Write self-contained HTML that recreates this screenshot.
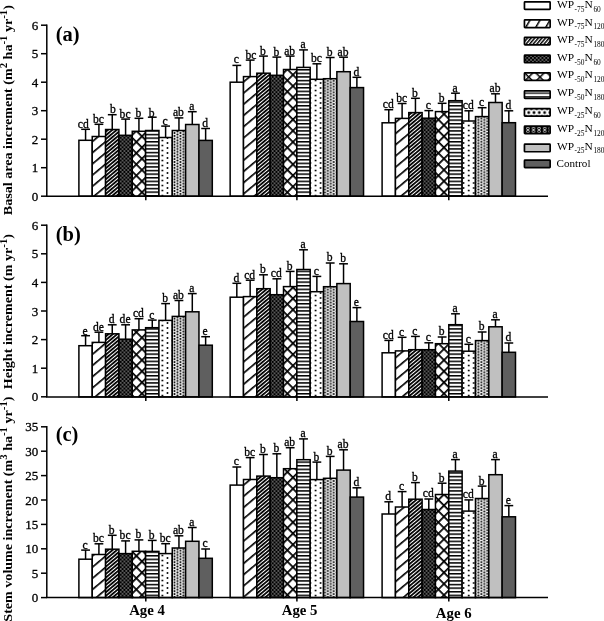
<!DOCTYPE html>
<html><head><meta charset="utf-8"><style>
html,body{margin:0;padding:0;background:#fff;width:604px;height:621px;overflow:hidden;}
svg{display:block;filter:grayscale(1);}
text{fill:#000;} .t{stroke:#000;stroke-width:0.3px;}
</style></head><body>
<svg width="604" height="621" viewBox="0 0 604 621">
<defs>
<pattern id="L2" patternUnits="userSpaceOnUse" x="0.61" width="8.66" height="8.66" patternTransform="rotate(30)">
  <rect width="8.66" height="8.66" fill="#fff"/><rect x="0" width="1.5" height="8.66" fill="#000"/></pattern>
<pattern id="L3" patternUnits="userSpaceOnUse" width="2.76" height="2.76" patternTransform="rotate(40)">
  <rect width="2.76" height="2.76" fill="#fff"/><rect x="0" width="1.5" height="2.76" fill="#000"/></pattern>
<pattern id="L5" patternUnits="userSpaceOnUse" x="-0.75" y="-0.75" width="7.99" height="7.99" patternTransform="translate(528.7 77) rotate(45)">
  <rect width="7.99" height="7.99" fill="#fff"/><rect x="0" width="1.5" height="7.99" fill="#000"/><rect y="0" width="7.99" height="1.5" fill="#000"/></pattern>
<pattern id="L6" patternUnits="userSpaceOnUse" y="92.4" width="10" height="3.6">
  <rect width="10" height="3.6" fill="#fff"/><rect y="0" width="10" height="1.6" fill="#333"/></pattern>
<pattern id="L7" patternUnits="userSpaceOnUse" x="528.7" y="102.6" width="5.3" height="20">
  <rect x="-1" y="-1" width="7" height="22" fill="#fff"/>
  <circle cx="0" cy="10" r="1.45" fill="#000"/><circle cx="5.3" cy="10" r="1.45" fill="#000"/>
  <circle cx="2.65" cy="6.3" r="1.3" fill="#000"/><circle cx="2.65" cy="13.7" r="1.3" fill="#000"/></pattern>
<pattern id="L8" patternUnits="userSpaceOnUse" x="527.9" y="119.9" width="5.6" height="20">
  <rect x="-1" y="-1" width="8" height="22" fill="#000"/>
  <circle cx="0" cy="8.45" r="1.35" fill="none" stroke="#fff" stroke-width="0.75"/>
  <circle cx="0" cy="11.55" r="1.35" fill="none" stroke="#fff" stroke-width="0.75"/>
  <circle cx="5.6" cy="8.45" r="1.35" fill="none" stroke="#fff" stroke-width="0.75"/>
  <circle cx="5.6" cy="11.55" r="1.35" fill="none" stroke="#fff" stroke-width="0.75"/></pattern>
<pattern id="p2" patternUnits="userSpaceOnUse" x="3.94" width="8.58" height="8.58" patternTransform="rotate(50)">
  <rect width="8.58" height="8.58" fill="#fff"/><rect x="0" width="1.65" height="8.58" fill="#000"/></pattern>
<pattern id="p3" patternUnits="userSpaceOnUse" width="2.8" height="2.8" patternTransform="rotate(50)">
  <rect width="2.8" height="2.8" fill="#fff"/><rect x="0" width="1.8" height="2.8" fill="#000"/></pattern>
<pattern id="p4" patternUnits="userSpaceOnUse" width="3.8" height="3.8">
  <rect width="3.8" height="3.8" fill="#000"/>
  <circle cx="0.95" cy="0.95" r="0.62" fill="#fff"/>
  <circle cx="2.85" cy="2.85" r="0.62" fill="#fff"/></pattern>
<pattern id="p5" patternUnits="userSpaceOnUse" x="6.07" y="3.08" width="7.91" height="7.91" patternTransform="rotate(45)">
  <rect width="7.91" height="7.91" fill="#fff"/><rect x="0" width="1.75" height="7.91" fill="#000"/><rect y="0" width="7.91" height="1.75" fill="#000"/></pattern>
<pattern id="p6" patternUnits="userSpaceOnUse" y="0.6" width="10" height="3.6">
  <rect width="10" height="3.6" fill="#fff"/><rect y="0" width="10" height="1.5" fill="#000"/></pattern>
<pattern id="p7" patternUnits="userSpaceOnUse" width="10.21" height="5">
  <rect width="10.21" height="5" fill="#fff"/>
  <circle cx="9.25" cy="0.5" r="0.95" fill="#000"/>
  <circle cx="4.14" cy="3.0" r="0.95" fill="#000"/>
  <circle cx="9.25" cy="5.5" r="0.95" fill="#000"/></pattern>
<pattern id="p8" patternUnits="userSpaceOnUse" x="-1.05" y="2.5" width="5.9" height="2.9">
  <rect width="5.9" height="2.9" fill="#f4f4f4"/>
  <circle cx="1.5" cy="1.45" r="1.05" fill="#000"/>
  <circle cx="4.45" cy="0" r="1.05" fill="#000"/>
  <circle cx="4.45" cy="2.9" r="1.05" fill="#000"/></pattern>
</defs>
<rect width="604" height="621" fill="#fff"/>
<line x1="85.57" y1="129.30" x2="85.57" y2="140.30" stroke="#000" stroke-width="1.5"/>
<line x1="81.17" y1="129.30" x2="89.97" y2="129.30" stroke="#000" stroke-width="1.5"/>
<rect x="78.90" y="140.30" width="13.34" height="55.90" fill="#fff" stroke="#000" stroke-width="1.5"/>
<text x="83.27" y="127.70" font-family='"Liberation Serif", serif' font-size="11.6" text-anchor="middle" class="t">cd</text>
<line x1="98.91" y1="124.30" x2="98.91" y2="136.50" stroke="#000" stroke-width="1.5"/>
<line x1="94.51" y1="124.30" x2="103.31" y2="124.30" stroke="#000" stroke-width="1.5"/>
<rect x="92.24" y="136.50" width="13.34" height="59.70" fill="url(#p2)" stroke="#000" stroke-width="1.5"/>
<text x="98.41" y="122.70" font-family='"Liberation Serif", serif' font-size="11.6" text-anchor="middle" class="t">bc</text>
<line x1="112.25" y1="114.70" x2="112.25" y2="129.50" stroke="#000" stroke-width="1.5"/>
<line x1="107.85" y1="114.70" x2="116.65" y2="114.70" stroke="#000" stroke-width="1.5"/>
<rect x="105.58" y="129.50" width="13.34" height="66.70" fill="url(#p3)" stroke="#000" stroke-width="1.5"/>
<text x="112.95" y="113.10" font-family='"Liberation Serif", serif' font-size="11.6" text-anchor="middle" class="t">b</text>
<line x1="125.59" y1="119.10" x2="125.59" y2="135.30" stroke="#000" stroke-width="1.5"/>
<line x1="121.19" y1="119.10" x2="129.99" y2="119.10" stroke="#000" stroke-width="1.5"/>
<rect x="118.92" y="135.30" width="13.34" height="60.90" fill="url(#p4)" stroke="#000" stroke-width="1.5"/>
<text x="125.09" y="117.50" font-family='"Liberation Serif", serif' font-size="11.6" text-anchor="middle" class="t">bc</text>
<line x1="138.93" y1="118.30" x2="138.93" y2="131.30" stroke="#000" stroke-width="1.5"/>
<line x1="134.53" y1="118.30" x2="143.33" y2="118.30" stroke="#000" stroke-width="1.5"/>
<rect x="132.26" y="131.30" width="13.34" height="64.90" fill="url(#p5)" stroke="#000" stroke-width="1.5"/>
<text x="138.43" y="116.70" font-family='"Liberation Serif", serif' font-size="11.6" text-anchor="middle" class="t">b</text>
<line x1="152.27" y1="117.20" x2="152.27" y2="130.50" stroke="#000" stroke-width="1.5"/>
<line x1="147.87" y1="117.20" x2="156.67" y2="117.20" stroke="#000" stroke-width="1.5"/>
<rect x="145.60" y="130.50" width="13.34" height="65.70" fill="url(#p6)" stroke="#000" stroke-width="1.5"/>
<text x="151.77" y="116.60" font-family='"Liberation Serif", serif' font-size="11.6" text-anchor="middle" class="t">b</text>
<line x1="165.61" y1="126.10" x2="165.61" y2="137.50" stroke="#000" stroke-width="1.5"/>
<line x1="161.21" y1="126.10" x2="170.01" y2="126.10" stroke="#000" stroke-width="1.5"/>
<rect x="158.94" y="137.50" width="13.34" height="58.70" fill="url(#p7)" stroke="#000" stroke-width="1.5"/>
<text x="165.11" y="124.50" font-family='"Liberation Serif", serif' font-size="11.6" text-anchor="middle" class="t">c</text>
<line x1="178.95" y1="117.90" x2="178.95" y2="130.50" stroke="#000" stroke-width="1.5"/>
<line x1="174.55" y1="117.90" x2="183.35" y2="117.90" stroke="#000" stroke-width="1.5"/>
<rect x="172.28" y="130.50" width="13.34" height="65.70" fill="url(#p8)" stroke="#000" stroke-width="1.5"/>
<text x="178.45" y="116.30" font-family='"Liberation Serif", serif' font-size="11.6" text-anchor="middle" class="t">ab</text>
<line x1="192.29" y1="111.70" x2="192.29" y2="124.50" stroke="#000" stroke-width="1.5"/>
<line x1="187.89" y1="111.70" x2="196.69" y2="111.70" stroke="#000" stroke-width="1.5"/>
<rect x="185.62" y="124.50" width="13.34" height="71.70" fill="#c0c0c0" stroke="#000" stroke-width="1.5"/>
<text x="191.79" y="110.10" font-family='"Liberation Serif", serif' font-size="11.6" text-anchor="middle" class="t">a</text>
<line x1="205.63" y1="128.50" x2="205.63" y2="140.40" stroke="#000" stroke-width="1.5"/>
<line x1="201.23" y1="128.50" x2="210.03" y2="128.50" stroke="#000" stroke-width="1.5"/>
<rect x="198.96" y="140.40" width="13.34" height="55.80" fill="#5f5f5f" stroke="#000" stroke-width="1.5"/>
<text x="205.13" y="126.90" font-family='"Liberation Serif", serif' font-size="11.6" text-anchor="middle" class="t">d</text>
<line x1="236.82" y1="65.40" x2="236.82" y2="82.20" stroke="#000" stroke-width="1.5"/>
<line x1="232.42" y1="65.40" x2="241.22" y2="65.40" stroke="#000" stroke-width="1.5"/>
<rect x="230.15" y="82.20" width="13.34" height="114.00" fill="#fff" stroke="#000" stroke-width="1.5"/>
<text x="236.32" y="63.00" font-family='"Liberation Serif", serif' font-size="11.6" text-anchor="middle" class="t">c</text>
<line x1="250.16" y1="60.10" x2="250.16" y2="76.60" stroke="#000" stroke-width="1.5"/>
<line x1="245.76" y1="60.10" x2="254.56" y2="60.10" stroke="#000" stroke-width="1.5"/>
<rect x="243.49" y="76.60" width="13.34" height="119.60" fill="url(#p2)" stroke="#000" stroke-width="1.5"/>
<text x="250.86" y="58.50" font-family='"Liberation Serif", serif' font-size="11.6" text-anchor="middle" class="t">bc</text>
<line x1="263.50" y1="56.10" x2="263.50" y2="73.20" stroke="#000" stroke-width="1.5"/>
<line x1="259.10" y1="56.10" x2="267.90" y2="56.10" stroke="#000" stroke-width="1.5"/>
<rect x="256.83" y="73.20" width="13.34" height="123.00" fill="url(#p3)" stroke="#000" stroke-width="1.5"/>
<text x="263.00" y="54.50" font-family='"Liberation Serif", serif' font-size="11.6" text-anchor="middle" class="t">b</text>
<line x1="276.84" y1="57.10" x2="276.84" y2="75.30" stroke="#000" stroke-width="1.5"/>
<line x1="272.44" y1="57.10" x2="281.24" y2="57.10" stroke="#000" stroke-width="1.5"/>
<rect x="270.17" y="75.30" width="13.34" height="120.90" fill="url(#p4)" stroke="#000" stroke-width="1.5"/>
<text x="276.34" y="55.50" font-family='"Liberation Serif", serif' font-size="11.6" text-anchor="middle" class="t">b</text>
<line x1="290.18" y1="56.10" x2="290.18" y2="69.50" stroke="#000" stroke-width="1.5"/>
<line x1="285.78" y1="56.10" x2="294.58" y2="56.10" stroke="#000" stroke-width="1.5"/>
<rect x="283.51" y="69.50" width="13.34" height="126.70" fill="url(#p5)" stroke="#000" stroke-width="1.5"/>
<text x="289.68" y="54.50" font-family='"Liberation Serif", serif' font-size="11.6" text-anchor="middle" class="t">ab</text>
<line x1="303.52" y1="49.90" x2="303.52" y2="67.40" stroke="#000" stroke-width="1.5"/>
<line x1="299.12" y1="49.90" x2="307.92" y2="49.90" stroke="#000" stroke-width="1.5"/>
<rect x="296.85" y="67.40" width="13.34" height="128.80" fill="url(#p6)" stroke="#000" stroke-width="1.5"/>
<text x="303.02" y="48.30" font-family='"Liberation Serif", serif' font-size="11.6" text-anchor="middle" class="t">a</text>
<line x1="316.86" y1="63.80" x2="316.86" y2="79.30" stroke="#000" stroke-width="1.5"/>
<line x1="312.46" y1="63.80" x2="321.26" y2="63.80" stroke="#000" stroke-width="1.5"/>
<rect x="310.19" y="79.30" width="13.34" height="116.90" fill="url(#p7)" stroke="#000" stroke-width="1.5"/>
<text x="316.36" y="62.20" font-family='"Liberation Serif", serif' font-size="11.6" text-anchor="middle" class="t">bc</text>
<line x1="330.20" y1="57.50" x2="330.20" y2="78.70" stroke="#000" stroke-width="1.5"/>
<line x1="325.80" y1="57.50" x2="334.60" y2="57.50" stroke="#000" stroke-width="1.5"/>
<rect x="323.53" y="78.70" width="13.34" height="117.50" fill="url(#p8)" stroke="#000" stroke-width="1.5"/>
<text x="329.70" y="55.90" font-family='"Liberation Serif", serif' font-size="11.6" text-anchor="middle" class="t">b</text>
<line x1="343.54" y1="57.20" x2="343.54" y2="71.70" stroke="#000" stroke-width="1.5"/>
<line x1="339.14" y1="57.20" x2="347.94" y2="57.20" stroke="#000" stroke-width="1.5"/>
<rect x="336.87" y="71.70" width="13.34" height="124.50" fill="#c0c0c0" stroke="#000" stroke-width="1.5"/>
<text x="343.04" y="55.60" font-family='"Liberation Serif", serif' font-size="11.6" text-anchor="middle" class="t">ab</text>
<line x1="356.88" y1="77.30" x2="356.88" y2="87.60" stroke="#000" stroke-width="1.5"/>
<line x1="352.48" y1="77.30" x2="361.28" y2="77.30" stroke="#000" stroke-width="1.5"/>
<rect x="350.21" y="87.60" width="13.34" height="108.60" fill="#5f5f5f" stroke="#000" stroke-width="1.5"/>
<text x="356.38" y="75.70" font-family='"Liberation Serif", serif' font-size="11.6" text-anchor="middle" class="t">d</text>
<line x1="388.77" y1="109.70" x2="388.77" y2="122.80" stroke="#000" stroke-width="1.5"/>
<line x1="384.37" y1="109.70" x2="393.17" y2="109.70" stroke="#000" stroke-width="1.5"/>
<rect x="382.10" y="122.80" width="13.34" height="73.40" fill="#fff" stroke="#000" stroke-width="1.5"/>
<text x="388.27" y="108.10" font-family='"Liberation Serif", serif' font-size="11.6" text-anchor="middle" class="t">cd</text>
<line x1="402.11" y1="103.50" x2="402.11" y2="118.40" stroke="#000" stroke-width="1.5"/>
<line x1="397.71" y1="103.50" x2="406.51" y2="103.50" stroke="#000" stroke-width="1.5"/>
<rect x="395.44" y="118.40" width="13.34" height="77.80" fill="url(#p2)" stroke="#000" stroke-width="1.5"/>
<text x="401.61" y="101.90" font-family='"Liberation Serif", serif' font-size="11.6" text-anchor="middle" class="t">bc</text>
<line x1="415.45" y1="98.30" x2="415.45" y2="112.60" stroke="#000" stroke-width="1.5"/>
<line x1="411.05" y1="98.30" x2="419.85" y2="98.30" stroke="#000" stroke-width="1.5"/>
<rect x="408.78" y="112.60" width="13.34" height="83.60" fill="url(#p3)" stroke="#000" stroke-width="1.5"/>
<text x="414.95" y="96.70" font-family='"Liberation Serif", serif' font-size="11.6" text-anchor="middle" class="t">b</text>
<line x1="428.79" y1="110.60" x2="428.79" y2="118.20" stroke="#000" stroke-width="1.5"/>
<line x1="424.39" y1="110.60" x2="433.19" y2="110.60" stroke="#000" stroke-width="1.5"/>
<rect x="422.12" y="118.20" width="13.34" height="78.00" fill="url(#p4)" stroke="#000" stroke-width="1.5"/>
<text x="428.29" y="109.00" font-family='"Liberation Serif", serif' font-size="11.6" text-anchor="middle" class="t">c</text>
<line x1="442.13" y1="103.30" x2="442.13" y2="111.60" stroke="#000" stroke-width="1.5"/>
<line x1="437.73" y1="103.30" x2="446.53" y2="103.30" stroke="#000" stroke-width="1.5"/>
<rect x="435.46" y="111.60" width="13.34" height="84.60" fill="url(#p5)" stroke="#000" stroke-width="1.5"/>
<text x="441.63" y="101.70" font-family='"Liberation Serif", serif' font-size="11.6" text-anchor="middle" class="t">b</text>
<line x1="455.47" y1="93.20" x2="455.47" y2="100.70" stroke="#000" stroke-width="1.5"/>
<line x1="451.07" y1="93.20" x2="459.87" y2="93.20" stroke="#000" stroke-width="1.5"/>
<rect x="448.80" y="100.70" width="13.34" height="95.50" fill="url(#p6)" stroke="#000" stroke-width="1.5"/>
<text x="454.97" y="91.60" font-family='"Liberation Serif", serif' font-size="11.6" text-anchor="middle" class="t">a</text>
<line x1="468.81" y1="110.80" x2="468.81" y2="121.00" stroke="#000" stroke-width="1.5"/>
<line x1="464.41" y1="110.80" x2="473.21" y2="110.80" stroke="#000" stroke-width="1.5"/>
<rect x="462.14" y="121.00" width="13.34" height="75.20" fill="url(#p7)" stroke="#000" stroke-width="1.5"/>
<text x="468.31" y="109.20" font-family='"Liberation Serif", serif' font-size="11.6" text-anchor="middle" class="t">cd</text>
<line x1="482.15" y1="107.70" x2="482.15" y2="116.60" stroke="#000" stroke-width="1.5"/>
<line x1="477.75" y1="107.70" x2="486.55" y2="107.70" stroke="#000" stroke-width="1.5"/>
<rect x="475.48" y="116.60" width="13.34" height="79.60" fill="url(#p8)" stroke="#000" stroke-width="1.5"/>
<text x="481.65" y="106.10" font-family='"Liberation Serif", serif' font-size="11.6" text-anchor="middle" class="t">c</text>
<line x1="495.49" y1="93.80" x2="495.49" y2="102.50" stroke="#000" stroke-width="1.5"/>
<line x1="491.09" y1="93.80" x2="499.89" y2="93.80" stroke="#000" stroke-width="1.5"/>
<rect x="488.82" y="102.50" width="13.34" height="93.70" fill="#c0c0c0" stroke="#000" stroke-width="1.5"/>
<text x="494.99" y="92.20" font-family='"Liberation Serif", serif' font-size="11.6" text-anchor="middle" class="t">ab</text>
<line x1="508.83" y1="110.80" x2="508.83" y2="122.70" stroke="#000" stroke-width="1.5"/>
<line x1="504.43" y1="110.80" x2="513.23" y2="110.80" stroke="#000" stroke-width="1.5"/>
<rect x="502.16" y="122.70" width="13.34" height="73.50" fill="#5f5f5f" stroke="#000" stroke-width="1.5"/>
<text x="508.33" y="109.20" font-family='"Liberation Serif", serif' font-size="11.6" text-anchor="middle" class="t">d</text>
<line x1="46.8" y1="24.45" x2="46.8" y2="196.20" stroke="#000" stroke-width="1.5"/>
<line x1="46.05" y1="196.20" x2="548" y2="196.20" stroke="#000" stroke-width="1.5"/>
<line x1="41.00" y1="196.20" x2="46.80" y2="196.20" stroke="#000" stroke-width="1.5"/>
<text x="38.3" y="200.70" font-family='"Liberation Serif", serif' font-size="13" text-anchor="end" class="t">0</text>
<line x1="41.00" y1="167.70" x2="46.80" y2="167.70" stroke="#000" stroke-width="1.5"/>
<text x="38.3" y="172.20" font-family='"Liberation Serif", serif' font-size="13" text-anchor="end" class="t">1</text>
<line x1="41.00" y1="139.20" x2="46.80" y2="139.20" stroke="#000" stroke-width="1.5"/>
<text x="38.3" y="143.70" font-family='"Liberation Serif", serif' font-size="13" text-anchor="end" class="t">2</text>
<line x1="41.00" y1="110.70" x2="46.80" y2="110.70" stroke="#000" stroke-width="1.5"/>
<text x="38.3" y="115.20" font-family='"Liberation Serif", serif' font-size="13" text-anchor="end" class="t">3</text>
<line x1="41.00" y1="82.20" x2="46.80" y2="82.20" stroke="#000" stroke-width="1.5"/>
<text x="38.3" y="86.70" font-family='"Liberation Serif", serif' font-size="13" text-anchor="end" class="t">4</text>
<line x1="41.00" y1="53.70" x2="46.80" y2="53.70" stroke="#000" stroke-width="1.5"/>
<text x="38.3" y="58.20" font-family='"Liberation Serif", serif' font-size="13" text-anchor="end" class="t">5</text>
<line x1="41.00" y1="25.20" x2="46.80" y2="25.20" stroke="#000" stroke-width="1.5"/>
<text x="38.3" y="29.70" font-family='"Liberation Serif", serif' font-size="13" text-anchor="end" class="t">6</text>
<line x1="145.8" y1="196.20" x2="145.8" y2="200.20" stroke="#000" stroke-width="1.5"/>
<line x1="296.9" y1="196.20" x2="296.9" y2="200.20" stroke="#000" stroke-width="1.5"/>
<line x1="448.8" y1="196.20" x2="448.8" y2="200.20" stroke="#000" stroke-width="1.5"/>
<text x="55.7" y="40.699999999999996" font-family='"Liberation Serif", serif' font-size="20.5" font-weight="bold">(a)</text>
<line x1="85.57" y1="335.70" x2="85.57" y2="345.70" stroke="#000" stroke-width="1.5"/>
<line x1="81.17" y1="335.70" x2="89.97" y2="335.70" stroke="#000" stroke-width="1.5"/>
<rect x="78.90" y="345.70" width="13.34" height="51.20" fill="#fff" stroke="#000" stroke-width="1.5"/>
<text x="85.07" y="335.00" font-family='"Liberation Serif", serif' font-size="11.6" text-anchor="middle" class="t">e</text>
<line x1="98.91" y1="332.20" x2="98.91" y2="342.40" stroke="#000" stroke-width="1.5"/>
<line x1="94.51" y1="332.20" x2="103.31" y2="332.20" stroke="#000" stroke-width="1.5"/>
<rect x="92.24" y="342.40" width="13.34" height="54.50" fill="url(#p2)" stroke="#000" stroke-width="1.5"/>
<text x="98.41" y="330.60" font-family='"Liberation Serif", serif' font-size="11.6" text-anchor="middle" class="t">de</text>
<line x1="112.25" y1="324.80" x2="112.25" y2="333.80" stroke="#000" stroke-width="1.5"/>
<line x1="107.85" y1="324.80" x2="116.65" y2="324.80" stroke="#000" stroke-width="1.5"/>
<rect x="105.58" y="333.80" width="13.34" height="63.10" fill="url(#p3)" stroke="#000" stroke-width="1.5"/>
<text x="111.75" y="323.20" font-family='"Liberation Serif", serif' font-size="11.6" text-anchor="middle" class="t">d</text>
<line x1="125.59" y1="324.80" x2="125.59" y2="339.20" stroke="#000" stroke-width="1.5"/>
<line x1="121.19" y1="324.80" x2="129.99" y2="324.80" stroke="#000" stroke-width="1.5"/>
<rect x="118.92" y="339.20" width="13.34" height="57.70" fill="url(#p4)" stroke="#000" stroke-width="1.5"/>
<text x="125.09" y="323.20" font-family='"Liberation Serif", serif' font-size="11.6" text-anchor="middle" class="t">de</text>
<line x1="138.93" y1="318.70" x2="138.93" y2="329.90" stroke="#000" stroke-width="1.5"/>
<line x1="134.53" y1="318.70" x2="143.33" y2="318.70" stroke="#000" stroke-width="1.5"/>
<rect x="132.26" y="329.90" width="13.34" height="67.00" fill="url(#p5)" stroke="#000" stroke-width="1.5"/>
<text x="138.43" y="317.10" font-family='"Liberation Serif", serif' font-size="11.6" text-anchor="middle" class="t">cd</text>
<line x1="152.27" y1="320.10" x2="152.27" y2="327.70" stroke="#000" stroke-width="1.5"/>
<line x1="147.87" y1="320.10" x2="156.67" y2="320.10" stroke="#000" stroke-width="1.5"/>
<rect x="145.60" y="327.70" width="13.34" height="69.20" fill="url(#p6)" stroke="#000" stroke-width="1.5"/>
<text x="151.77" y="318.50" font-family='"Liberation Serif", serif' font-size="11.6" text-anchor="middle" class="t">c</text>
<line x1="165.61" y1="303.60" x2="165.61" y2="320.40" stroke="#000" stroke-width="1.5"/>
<line x1="161.21" y1="303.60" x2="170.01" y2="303.60" stroke="#000" stroke-width="1.5"/>
<rect x="158.94" y="320.40" width="13.34" height="76.50" fill="url(#p7)" stroke="#000" stroke-width="1.5"/>
<text x="165.11" y="302.00" font-family='"Liberation Serif", serif' font-size="11.6" text-anchor="middle" class="t">b</text>
<line x1="178.95" y1="300.50" x2="178.95" y2="316.40" stroke="#000" stroke-width="1.5"/>
<line x1="174.55" y1="300.50" x2="183.35" y2="300.50" stroke="#000" stroke-width="1.5"/>
<rect x="172.28" y="316.40" width="13.34" height="80.50" fill="url(#p8)" stroke="#000" stroke-width="1.5"/>
<text x="178.45" y="298.90" font-family='"Liberation Serif", serif' font-size="11.6" text-anchor="middle" class="t">ab</text>
<line x1="192.29" y1="293.60" x2="192.29" y2="311.80" stroke="#000" stroke-width="1.5"/>
<line x1="187.89" y1="293.60" x2="196.69" y2="293.60" stroke="#000" stroke-width="1.5"/>
<rect x="185.62" y="311.80" width="13.34" height="85.10" fill="#c0c0c0" stroke="#000" stroke-width="1.5"/>
<text x="191.79" y="292.00" font-family='"Liberation Serif", serif' font-size="11.6" text-anchor="middle" class="t">a</text>
<line x1="205.63" y1="336.70" x2="205.63" y2="345.20" stroke="#000" stroke-width="1.5"/>
<line x1="201.23" y1="336.70" x2="210.03" y2="336.70" stroke="#000" stroke-width="1.5"/>
<rect x="198.96" y="345.20" width="13.34" height="51.70" fill="#5f5f5f" stroke="#000" stroke-width="1.5"/>
<text x="205.13" y="335.10" font-family='"Liberation Serif", serif' font-size="11.6" text-anchor="middle" class="t">e</text>
<line x1="236.82" y1="283.30" x2="236.82" y2="297.20" stroke="#000" stroke-width="1.5"/>
<line x1="232.42" y1="283.30" x2="241.22" y2="283.30" stroke="#000" stroke-width="1.5"/>
<rect x="230.15" y="297.20" width="13.34" height="99.70" fill="#fff" stroke="#000" stroke-width="1.5"/>
<text x="236.32" y="281.70" font-family='"Liberation Serif", serif' font-size="11.6" text-anchor="middle" class="t">d</text>
<line x1="250.16" y1="280.20" x2="250.16" y2="296.60" stroke="#000" stroke-width="1.5"/>
<line x1="245.76" y1="280.20" x2="254.56" y2="280.20" stroke="#000" stroke-width="1.5"/>
<rect x="243.49" y="296.60" width="13.34" height="100.30" fill="url(#p2)" stroke="#000" stroke-width="1.5"/>
<text x="249.66" y="278.60" font-family='"Liberation Serif", serif' font-size="11.6" text-anchor="middle" class="t">cd</text>
<line x1="263.50" y1="274.80" x2="263.50" y2="288.70" stroke="#000" stroke-width="1.5"/>
<line x1="259.10" y1="274.80" x2="267.90" y2="274.80" stroke="#000" stroke-width="1.5"/>
<rect x="256.83" y="288.70" width="13.34" height="108.20" fill="url(#p3)" stroke="#000" stroke-width="1.5"/>
<text x="263.00" y="273.20" font-family='"Liberation Serif", serif' font-size="11.6" text-anchor="middle" class="t">b</text>
<line x1="276.84" y1="278.80" x2="276.84" y2="294.70" stroke="#000" stroke-width="1.5"/>
<line x1="272.44" y1="278.80" x2="281.24" y2="278.80" stroke="#000" stroke-width="1.5"/>
<rect x="270.17" y="294.70" width="13.34" height="102.20" fill="url(#p4)" stroke="#000" stroke-width="1.5"/>
<text x="276.34" y="277.20" font-family='"Liberation Serif", serif' font-size="11.6" text-anchor="middle" class="t">cd</text>
<line x1="290.18" y1="271.40" x2="290.18" y2="286.60" stroke="#000" stroke-width="1.5"/>
<line x1="285.78" y1="271.40" x2="294.58" y2="271.40" stroke="#000" stroke-width="1.5"/>
<rect x="283.51" y="286.60" width="13.34" height="110.30" fill="url(#p5)" stroke="#000" stroke-width="1.5"/>
<text x="289.68" y="269.80" font-family='"Liberation Serif", serif' font-size="11.6" text-anchor="middle" class="t">b</text>
<line x1="303.52" y1="249.80" x2="303.52" y2="269.50" stroke="#000" stroke-width="1.5"/>
<line x1="299.12" y1="249.80" x2="307.92" y2="249.80" stroke="#000" stroke-width="1.5"/>
<rect x="296.85" y="269.50" width="13.34" height="127.40" fill="url(#p6)" stroke="#000" stroke-width="1.5"/>
<text x="303.02" y="248.20" font-family='"Liberation Serif", serif' font-size="11.6" text-anchor="middle" class="t">a</text>
<line x1="316.86" y1="276.40" x2="316.86" y2="291.70" stroke="#000" stroke-width="1.5"/>
<line x1="312.46" y1="276.40" x2="321.26" y2="276.40" stroke="#000" stroke-width="1.5"/>
<rect x="310.19" y="291.70" width="13.34" height="105.20" fill="url(#p7)" stroke="#000" stroke-width="1.5"/>
<text x="316.36" y="274.80" font-family='"Liberation Serif", serif' font-size="11.6" text-anchor="middle" class="t">c</text>
<line x1="330.20" y1="263.00" x2="330.20" y2="286.70" stroke="#000" stroke-width="1.5"/>
<line x1="325.80" y1="263.00" x2="334.60" y2="263.00" stroke="#000" stroke-width="1.5"/>
<rect x="323.53" y="286.70" width="13.34" height="110.20" fill="url(#p8)" stroke="#000" stroke-width="1.5"/>
<text x="329.70" y="261.40" font-family='"Liberation Serif", serif' font-size="11.6" text-anchor="middle" class="t">b</text>
<line x1="343.54" y1="263.80" x2="343.54" y2="283.60" stroke="#000" stroke-width="1.5"/>
<line x1="339.14" y1="263.80" x2="347.94" y2="263.80" stroke="#000" stroke-width="1.5"/>
<rect x="336.87" y="283.60" width="13.34" height="113.30" fill="#c0c0c0" stroke="#000" stroke-width="1.5"/>
<text x="343.04" y="262.20" font-family='"Liberation Serif", serif' font-size="11.6" text-anchor="middle" class="t">b</text>
<line x1="356.88" y1="307.60" x2="356.88" y2="321.50" stroke="#000" stroke-width="1.5"/>
<line x1="352.48" y1="307.60" x2="361.28" y2="307.60" stroke="#000" stroke-width="1.5"/>
<rect x="350.21" y="321.50" width="13.34" height="75.40" fill="#5f5f5f" stroke="#000" stroke-width="1.5"/>
<text x="356.38" y="306.00" font-family='"Liberation Serif", serif' font-size="11.6" text-anchor="middle" class="t">e</text>
<line x1="388.77" y1="340.40" x2="388.77" y2="352.80" stroke="#000" stroke-width="1.5"/>
<line x1="384.37" y1="340.40" x2="393.17" y2="340.40" stroke="#000" stroke-width="1.5"/>
<rect x="382.10" y="352.80" width="13.34" height="44.10" fill="#fff" stroke="#000" stroke-width="1.5"/>
<text x="388.27" y="338.80" font-family='"Liberation Serif", serif' font-size="11.6" text-anchor="middle" class="t">cd</text>
<line x1="402.11" y1="337.30" x2="402.11" y2="350.90" stroke="#000" stroke-width="1.5"/>
<line x1="397.71" y1="337.30" x2="406.51" y2="337.30" stroke="#000" stroke-width="1.5"/>
<rect x="395.44" y="350.90" width="13.34" height="46.00" fill="url(#p2)" stroke="#000" stroke-width="1.5"/>
<text x="401.61" y="335.70" font-family='"Liberation Serif", serif' font-size="11.6" text-anchor="middle" class="t">c</text>
<line x1="415.45" y1="336.40" x2="415.45" y2="349.70" stroke="#000" stroke-width="1.5"/>
<line x1="411.05" y1="336.40" x2="419.85" y2="336.40" stroke="#000" stroke-width="1.5"/>
<rect x="408.78" y="349.70" width="13.34" height="47.20" fill="url(#p3)" stroke="#000" stroke-width="1.5"/>
<text x="414.95" y="334.80" font-family='"Liberation Serif", serif' font-size="11.6" text-anchor="middle" class="t">c</text>
<line x1="428.79" y1="342.80" x2="428.79" y2="349.70" stroke="#000" stroke-width="1.5"/>
<line x1="424.39" y1="342.80" x2="433.19" y2="342.80" stroke="#000" stroke-width="1.5"/>
<rect x="422.12" y="349.70" width="13.34" height="47.20" fill="url(#p4)" stroke="#000" stroke-width="1.5"/>
<text x="428.29" y="341.20" font-family='"Liberation Serif", serif' font-size="11.6" text-anchor="middle" class="t">c</text>
<line x1="442.13" y1="337.00" x2="442.13" y2="343.70" stroke="#000" stroke-width="1.5"/>
<line x1="437.73" y1="337.00" x2="446.53" y2="337.00" stroke="#000" stroke-width="1.5"/>
<rect x="435.46" y="343.70" width="13.34" height="53.20" fill="url(#p5)" stroke="#000" stroke-width="1.5"/>
<text x="441.63" y="335.40" font-family='"Liberation Serif", serif' font-size="11.6" text-anchor="middle" class="t">b</text>
<line x1="455.47" y1="313.80" x2="455.47" y2="324.70" stroke="#000" stroke-width="1.5"/>
<line x1="451.07" y1="313.80" x2="459.87" y2="313.80" stroke="#000" stroke-width="1.5"/>
<rect x="448.80" y="324.70" width="13.34" height="72.20" fill="url(#p6)" stroke="#000" stroke-width="1.5"/>
<text x="454.97" y="312.20" font-family='"Liberation Serif", serif' font-size="11.6" text-anchor="middle" class="t">a</text>
<line x1="468.81" y1="344.30" x2="468.81" y2="351.20" stroke="#000" stroke-width="1.5"/>
<line x1="464.41" y1="344.30" x2="473.21" y2="344.30" stroke="#000" stroke-width="1.5"/>
<rect x="462.14" y="351.20" width="13.34" height="45.70" fill="url(#p7)" stroke="#000" stroke-width="1.5"/>
<text x="468.31" y="342.70" font-family='"Liberation Serif", serif' font-size="11.6" text-anchor="middle" class="t">c</text>
<line x1="482.15" y1="332.00" x2="482.15" y2="340.60" stroke="#000" stroke-width="1.5"/>
<line x1="477.75" y1="332.00" x2="486.55" y2="332.00" stroke="#000" stroke-width="1.5"/>
<rect x="475.48" y="340.60" width="13.34" height="56.30" fill="url(#p8)" stroke="#000" stroke-width="1.5"/>
<text x="481.65" y="330.40" font-family='"Liberation Serif", serif' font-size="11.6" text-anchor="middle" class="t">b</text>
<line x1="495.49" y1="319.80" x2="495.49" y2="326.80" stroke="#000" stroke-width="1.5"/>
<line x1="491.09" y1="319.80" x2="499.89" y2="319.80" stroke="#000" stroke-width="1.5"/>
<rect x="488.82" y="326.80" width="13.34" height="70.10" fill="#c0c0c0" stroke="#000" stroke-width="1.5"/>
<text x="494.99" y="318.20" font-family='"Liberation Serif", serif' font-size="11.6" text-anchor="middle" class="t">a</text>
<line x1="508.83" y1="343.00" x2="508.83" y2="352.30" stroke="#000" stroke-width="1.5"/>
<line x1="504.43" y1="343.00" x2="513.23" y2="343.00" stroke="#000" stroke-width="1.5"/>
<rect x="502.16" y="352.30" width="13.34" height="44.60" fill="#5f5f5f" stroke="#000" stroke-width="1.5"/>
<text x="508.33" y="341.40" font-family='"Liberation Serif", serif' font-size="11.6" text-anchor="middle" class="t">d</text>
<line x1="46.8" y1="224.45" x2="46.8" y2="396.90" stroke="#000" stroke-width="1.5"/>
<line x1="46.05" y1="396.90" x2="548" y2="396.90" stroke="#000" stroke-width="1.5"/>
<line x1="41.00" y1="396.80" x2="46.80" y2="396.80" stroke="#000" stroke-width="1.5"/>
<text x="38.3" y="401.30" font-family='"Liberation Serif", serif' font-size="13" text-anchor="end" class="t">0</text>
<line x1="41.00" y1="368.20" x2="46.80" y2="368.20" stroke="#000" stroke-width="1.5"/>
<text x="38.3" y="372.70" font-family='"Liberation Serif", serif' font-size="13" text-anchor="end" class="t">1</text>
<line x1="41.00" y1="339.60" x2="46.80" y2="339.60" stroke="#000" stroke-width="1.5"/>
<text x="38.3" y="344.10" font-family='"Liberation Serif", serif' font-size="13" text-anchor="end" class="t">2</text>
<line x1="41.00" y1="311.00" x2="46.80" y2="311.00" stroke="#000" stroke-width="1.5"/>
<text x="38.3" y="315.50" font-family='"Liberation Serif", serif' font-size="13" text-anchor="end" class="t">3</text>
<line x1="41.00" y1="282.40" x2="46.80" y2="282.40" stroke="#000" stroke-width="1.5"/>
<text x="38.3" y="286.90" font-family='"Liberation Serif", serif' font-size="13" text-anchor="end" class="t">4</text>
<line x1="41.00" y1="253.80" x2="46.80" y2="253.80" stroke="#000" stroke-width="1.5"/>
<text x="38.3" y="258.30" font-family='"Liberation Serif", serif' font-size="13" text-anchor="end" class="t">5</text>
<line x1="41.00" y1="225.20" x2="46.80" y2="225.20" stroke="#000" stroke-width="1.5"/>
<text x="38.3" y="229.70" font-family='"Liberation Serif", serif' font-size="13" text-anchor="end" class="t">6</text>
<line x1="145.8" y1="396.90" x2="145.8" y2="400.90" stroke="#000" stroke-width="1.5"/>
<line x1="296.9" y1="396.90" x2="296.9" y2="400.90" stroke="#000" stroke-width="1.5"/>
<line x1="448.8" y1="396.90" x2="448.8" y2="400.90" stroke="#000" stroke-width="1.5"/>
<text x="55.7" y="240.70000000000002" font-family='"Liberation Serif", serif' font-size="20.5" font-weight="bold">(b)</text>
<line x1="85.57" y1="550.10" x2="85.57" y2="559.20" stroke="#000" stroke-width="1.5"/>
<line x1="81.17" y1="550.10" x2="89.97" y2="550.10" stroke="#000" stroke-width="1.5"/>
<rect x="78.90" y="559.20" width="13.34" height="38.40" fill="#fff" stroke="#000" stroke-width="1.5"/>
<text x="85.07" y="548.50" font-family='"Liberation Serif", serif' font-size="11.6" text-anchor="middle" class="t">c</text>
<line x1="98.91" y1="543.80" x2="98.91" y2="554.50" stroke="#000" stroke-width="1.5"/>
<line x1="94.51" y1="543.80" x2="103.31" y2="543.80" stroke="#000" stroke-width="1.5"/>
<rect x="92.24" y="554.50" width="13.34" height="43.10" fill="url(#p2)" stroke="#000" stroke-width="1.5"/>
<text x="98.41" y="542.20" font-family='"Liberation Serif", serif' font-size="11.6" text-anchor="middle" class="t">bc</text>
<line x1="112.25" y1="535.30" x2="112.25" y2="549.20" stroke="#000" stroke-width="1.5"/>
<line x1="107.85" y1="535.30" x2="116.65" y2="535.30" stroke="#000" stroke-width="1.5"/>
<rect x="105.58" y="549.20" width="13.34" height="48.40" fill="url(#p3)" stroke="#000" stroke-width="1.5"/>
<text x="111.75" y="533.70" font-family='"Liberation Serif", serif' font-size="11.6" text-anchor="middle" class="t">b</text>
<line x1="125.59" y1="540.90" x2="125.59" y2="553.60" stroke="#000" stroke-width="1.5"/>
<line x1="121.19" y1="540.90" x2="129.99" y2="540.90" stroke="#000" stroke-width="1.5"/>
<rect x="118.92" y="553.60" width="13.34" height="44.00" fill="url(#p4)" stroke="#000" stroke-width="1.5"/>
<text x="125.09" y="539.30" font-family='"Liberation Serif", serif' font-size="11.6" text-anchor="middle" class="t">bc</text>
<line x1="138.93" y1="539.90" x2="138.93" y2="551.30" stroke="#000" stroke-width="1.5"/>
<line x1="134.53" y1="539.90" x2="143.33" y2="539.90" stroke="#000" stroke-width="1.5"/>
<rect x="132.26" y="551.30" width="13.34" height="46.30" fill="url(#p5)" stroke="#000" stroke-width="1.5"/>
<text x="138.43" y="538.30" font-family='"Liberation Serif", serif' font-size="11.6" text-anchor="middle" class="t">b</text>
<line x1="152.27" y1="540.40" x2="152.27" y2="551.40" stroke="#000" stroke-width="1.5"/>
<line x1="147.87" y1="540.40" x2="156.67" y2="540.40" stroke="#000" stroke-width="1.5"/>
<rect x="145.60" y="551.40" width="13.34" height="46.20" fill="url(#p6)" stroke="#000" stroke-width="1.5"/>
<text x="151.77" y="538.80" font-family='"Liberation Serif", serif' font-size="11.6" text-anchor="middle" class="t">b</text>
<line x1="165.61" y1="543.70" x2="165.61" y2="553.60" stroke="#000" stroke-width="1.5"/>
<line x1="161.21" y1="543.70" x2="170.01" y2="543.70" stroke="#000" stroke-width="1.5"/>
<rect x="158.94" y="553.60" width="13.34" height="44.00" fill="url(#p7)" stroke="#000" stroke-width="1.5"/>
<text x="165.11" y="542.10" font-family='"Liberation Serif", serif' font-size="11.6" text-anchor="middle" class="t">bc</text>
<line x1="178.95" y1="535.80" x2="178.95" y2="548.00" stroke="#000" stroke-width="1.5"/>
<line x1="174.55" y1="535.80" x2="183.35" y2="535.80" stroke="#000" stroke-width="1.5"/>
<rect x="172.28" y="548.00" width="13.34" height="49.60" fill="url(#p8)" stroke="#000" stroke-width="1.5"/>
<text x="178.45" y="534.20" font-family='"Liberation Serif", serif' font-size="11.6" text-anchor="middle" class="t">ab</text>
<line x1="192.29" y1="527.50" x2="192.29" y2="541.30" stroke="#000" stroke-width="1.5"/>
<line x1="187.89" y1="527.50" x2="196.69" y2="527.50" stroke="#000" stroke-width="1.5"/>
<rect x="185.62" y="541.30" width="13.34" height="56.30" fill="#c0c0c0" stroke="#000" stroke-width="1.5"/>
<text x="191.79" y="525.90" font-family='"Liberation Serif", serif' font-size="11.6" text-anchor="middle" class="t">a</text>
<line x1="205.63" y1="549.00" x2="205.63" y2="558.30" stroke="#000" stroke-width="1.5"/>
<line x1="201.23" y1="549.00" x2="210.03" y2="549.00" stroke="#000" stroke-width="1.5"/>
<rect x="198.96" y="558.30" width="13.34" height="39.30" fill="#5f5f5f" stroke="#000" stroke-width="1.5"/>
<text x="205.13" y="547.40" font-family='"Liberation Serif", serif' font-size="11.6" text-anchor="middle" class="t">c</text>
<line x1="236.82" y1="467.00" x2="236.82" y2="485.10" stroke="#000" stroke-width="1.5"/>
<line x1="232.42" y1="467.00" x2="241.22" y2="467.00" stroke="#000" stroke-width="1.5"/>
<rect x="230.15" y="485.10" width="13.34" height="112.50" fill="#fff" stroke="#000" stroke-width="1.5"/>
<text x="236.32" y="465.40" font-family='"Liberation Serif", serif' font-size="11.6" text-anchor="middle" class="t">c</text>
<line x1="250.16" y1="457.60" x2="250.16" y2="479.50" stroke="#000" stroke-width="1.5"/>
<line x1="245.76" y1="457.60" x2="254.56" y2="457.60" stroke="#000" stroke-width="1.5"/>
<rect x="243.49" y="479.50" width="13.34" height="118.10" fill="url(#p2)" stroke="#000" stroke-width="1.5"/>
<text x="249.66" y="456.00" font-family='"Liberation Serif", serif' font-size="11.6" text-anchor="middle" class="t">bc</text>
<line x1="263.50" y1="454.50" x2="263.50" y2="476.10" stroke="#000" stroke-width="1.5"/>
<line x1="259.10" y1="454.50" x2="267.90" y2="454.50" stroke="#000" stroke-width="1.5"/>
<rect x="256.83" y="476.10" width="13.34" height="121.50" fill="url(#p3)" stroke="#000" stroke-width="1.5"/>
<text x="263.00" y="452.90" font-family='"Liberation Serif", serif' font-size="11.6" text-anchor="middle" class="t">b</text>
<line x1="276.84" y1="453.80" x2="276.84" y2="477.70" stroke="#000" stroke-width="1.5"/>
<line x1="272.44" y1="453.80" x2="281.24" y2="453.80" stroke="#000" stroke-width="1.5"/>
<rect x="270.17" y="477.70" width="13.34" height="119.90" fill="url(#p4)" stroke="#000" stroke-width="1.5"/>
<text x="276.34" y="452.20" font-family='"Liberation Serif", serif' font-size="11.6" text-anchor="middle" class="t">b</text>
<line x1="290.18" y1="447.70" x2="290.18" y2="468.70" stroke="#000" stroke-width="1.5"/>
<line x1="285.78" y1="447.70" x2="294.58" y2="447.70" stroke="#000" stroke-width="1.5"/>
<rect x="283.51" y="468.70" width="13.34" height="128.90" fill="url(#p5)" stroke="#000" stroke-width="1.5"/>
<text x="289.68" y="446.10" font-family='"Liberation Serif", serif' font-size="11.6" text-anchor="middle" class="t">ab</text>
<line x1="303.52" y1="438.90" x2="303.52" y2="459.70" stroke="#000" stroke-width="1.5"/>
<line x1="299.12" y1="438.90" x2="307.92" y2="438.90" stroke="#000" stroke-width="1.5"/>
<rect x="296.85" y="459.70" width="13.34" height="137.90" fill="url(#p6)" stroke="#000" stroke-width="1.5"/>
<text x="303.02" y="437.30" font-family='"Liberation Serif", serif' font-size="11.6" text-anchor="middle" class="t">a</text>
<line x1="316.86" y1="462.10" x2="316.86" y2="479.60" stroke="#000" stroke-width="1.5"/>
<line x1="312.46" y1="462.10" x2="321.26" y2="462.10" stroke="#000" stroke-width="1.5"/>
<rect x="310.19" y="479.60" width="13.34" height="118.00" fill="url(#p7)" stroke="#000" stroke-width="1.5"/>
<text x="316.36" y="460.50" font-family='"Liberation Serif", serif' font-size="11.6" text-anchor="middle" class="t">b</text>
<line x1="330.20" y1="456.40" x2="330.20" y2="478.30" stroke="#000" stroke-width="1.5"/>
<line x1="325.80" y1="456.40" x2="334.60" y2="456.40" stroke="#000" stroke-width="1.5"/>
<rect x="323.53" y="478.30" width="13.34" height="119.30" fill="url(#p8)" stroke="#000" stroke-width="1.5"/>
<text x="329.70" y="454.80" font-family='"Liberation Serif", serif' font-size="11.6" text-anchor="middle" class="t">b</text>
<line x1="343.54" y1="449.80" x2="343.54" y2="470.10" stroke="#000" stroke-width="1.5"/>
<line x1="339.14" y1="449.80" x2="347.94" y2="449.80" stroke="#000" stroke-width="1.5"/>
<rect x="336.87" y="470.10" width="13.34" height="127.50" fill="#c0c0c0" stroke="#000" stroke-width="1.5"/>
<text x="343.04" y="448.20" font-family='"Liberation Serif", serif' font-size="11.6" text-anchor="middle" class="t">ab</text>
<line x1="356.88" y1="487.80" x2="356.88" y2="497.10" stroke="#000" stroke-width="1.5"/>
<line x1="352.48" y1="487.80" x2="361.28" y2="487.80" stroke="#000" stroke-width="1.5"/>
<rect x="350.21" y="497.10" width="13.34" height="100.50" fill="#5f5f5f" stroke="#000" stroke-width="1.5"/>
<text x="356.38" y="486.20" font-family='"Liberation Serif", serif' font-size="11.6" text-anchor="middle" class="t">d</text>
<line x1="388.77" y1="501.80" x2="388.77" y2="514.00" stroke="#000" stroke-width="1.5"/>
<line x1="384.37" y1="501.80" x2="393.17" y2="501.80" stroke="#000" stroke-width="1.5"/>
<rect x="382.10" y="514.00" width="13.34" height="83.60" fill="#fff" stroke="#000" stroke-width="1.5"/>
<text x="388.27" y="500.20" font-family='"Liberation Serif", serif' font-size="11.6" text-anchor="middle" class="t">d</text>
<line x1="402.11" y1="491.60" x2="402.11" y2="507.00" stroke="#000" stroke-width="1.5"/>
<line x1="397.71" y1="491.60" x2="406.51" y2="491.60" stroke="#000" stroke-width="1.5"/>
<rect x="395.44" y="507.00" width="13.34" height="90.60" fill="url(#p2)" stroke="#000" stroke-width="1.5"/>
<text x="401.61" y="490.00" font-family='"Liberation Serif", serif' font-size="11.6" text-anchor="middle" class="t">c</text>
<line x1="415.45" y1="482.60" x2="415.45" y2="499.20" stroke="#000" stroke-width="1.5"/>
<line x1="411.05" y1="482.60" x2="419.85" y2="482.60" stroke="#000" stroke-width="1.5"/>
<rect x="408.78" y="499.20" width="13.34" height="98.40" fill="url(#p3)" stroke="#000" stroke-width="1.5"/>
<text x="414.95" y="481.00" font-family='"Liberation Serif", serif' font-size="11.6" text-anchor="middle" class="t">b</text>
<line x1="428.79" y1="499.00" x2="428.79" y2="509.50" stroke="#000" stroke-width="1.5"/>
<line x1="424.39" y1="499.00" x2="433.19" y2="499.00" stroke="#000" stroke-width="1.5"/>
<rect x="422.12" y="509.50" width="13.34" height="88.10" fill="url(#p4)" stroke="#000" stroke-width="1.5"/>
<text x="428.29" y="497.40" font-family='"Liberation Serif", serif' font-size="11.6" text-anchor="middle" class="t">cd</text>
<line x1="442.13" y1="483.20" x2="442.13" y2="494.50" stroke="#000" stroke-width="1.5"/>
<line x1="437.73" y1="483.20" x2="446.53" y2="483.20" stroke="#000" stroke-width="1.5"/>
<rect x="435.46" y="494.50" width="13.34" height="103.10" fill="url(#p5)" stroke="#000" stroke-width="1.5"/>
<text x="441.63" y="481.60" font-family='"Liberation Serif", serif' font-size="11.6" text-anchor="middle" class="t">b</text>
<line x1="455.47" y1="459.60" x2="455.47" y2="471.10" stroke="#000" stroke-width="1.5"/>
<line x1="451.07" y1="459.60" x2="459.87" y2="459.60" stroke="#000" stroke-width="1.5"/>
<rect x="448.80" y="471.10" width="13.34" height="126.50" fill="url(#p6)" stroke="#000" stroke-width="1.5"/>
<text x="454.97" y="458.00" font-family='"Liberation Serif", serif' font-size="11.6" text-anchor="middle" class="t">a</text>
<line x1="468.81" y1="499.90" x2="468.81" y2="511.10" stroke="#000" stroke-width="1.5"/>
<line x1="464.41" y1="499.90" x2="473.21" y2="499.90" stroke="#000" stroke-width="1.5"/>
<rect x="462.14" y="511.10" width="13.34" height="86.50" fill="url(#p7)" stroke="#000" stroke-width="1.5"/>
<text x="468.31" y="498.30" font-family='"Liberation Serif", serif' font-size="11.6" text-anchor="middle" class="t">cd</text>
<line x1="482.15" y1="486.10" x2="482.15" y2="498.50" stroke="#000" stroke-width="1.5"/>
<line x1="477.75" y1="486.10" x2="486.55" y2="486.10" stroke="#000" stroke-width="1.5"/>
<rect x="475.48" y="498.50" width="13.34" height="99.10" fill="url(#p8)" stroke="#000" stroke-width="1.5"/>
<text x="481.65" y="484.50" font-family='"Liberation Serif", serif' font-size="11.6" text-anchor="middle" class="t">b</text>
<line x1="495.49" y1="459.60" x2="495.49" y2="474.70" stroke="#000" stroke-width="1.5"/>
<line x1="491.09" y1="459.60" x2="499.89" y2="459.60" stroke="#000" stroke-width="1.5"/>
<rect x="488.82" y="474.70" width="13.34" height="122.90" fill="#c0c0c0" stroke="#000" stroke-width="1.5"/>
<text x="494.99" y="458.00" font-family='"Liberation Serif", serif' font-size="11.6" text-anchor="middle" class="t">a</text>
<line x1="508.83" y1="505.60" x2="508.83" y2="516.80" stroke="#000" stroke-width="1.5"/>
<line x1="504.43" y1="505.60" x2="513.23" y2="505.60" stroke="#000" stroke-width="1.5"/>
<rect x="502.16" y="516.80" width="13.34" height="80.80" fill="#5f5f5f" stroke="#000" stroke-width="1.5"/>
<text x="508.33" y="504.00" font-family='"Liberation Serif", serif' font-size="11.6" text-anchor="middle" class="t">e</text>
<line x1="46.8" y1="426.05" x2="46.8" y2="597.60" stroke="#000" stroke-width="1.5"/>
<line x1="46.05" y1="597.60" x2="548" y2="597.60" stroke="#000" stroke-width="1.5"/>
<line x1="41.00" y1="597.60" x2="46.80" y2="597.60" stroke="#000" stroke-width="1.5"/>
<text x="38.3" y="602.10" font-family='"Liberation Serif", serif' font-size="13" text-anchor="end" class="t">0</text>
<line x1="41.00" y1="573.20" x2="46.80" y2="573.20" stroke="#000" stroke-width="1.5"/>
<text x="38.3" y="577.70" font-family='"Liberation Serif", serif' font-size="13" text-anchor="end" class="t">5</text>
<line x1="41.00" y1="548.80" x2="46.80" y2="548.80" stroke="#000" stroke-width="1.5"/>
<text x="38.3" y="553.30" font-family='"Liberation Serif", serif' font-size="13" text-anchor="end" class="t">10</text>
<line x1="41.00" y1="524.40" x2="46.80" y2="524.40" stroke="#000" stroke-width="1.5"/>
<text x="38.3" y="528.90" font-family='"Liberation Serif", serif' font-size="13" text-anchor="end" class="t">15</text>
<line x1="41.00" y1="500.00" x2="46.80" y2="500.00" stroke="#000" stroke-width="1.5"/>
<text x="38.3" y="504.50" font-family='"Liberation Serif", serif' font-size="13" text-anchor="end" class="t">20</text>
<line x1="41.00" y1="475.60" x2="46.80" y2="475.60" stroke="#000" stroke-width="1.5"/>
<text x="38.3" y="480.10" font-family='"Liberation Serif", serif' font-size="13" text-anchor="end" class="t">25</text>
<line x1="41.00" y1="451.20" x2="46.80" y2="451.20" stroke="#000" stroke-width="1.5"/>
<text x="38.3" y="455.70" font-family='"Liberation Serif", serif' font-size="13" text-anchor="end" class="t">30</text>
<line x1="41.00" y1="426.80" x2="46.80" y2="426.80" stroke="#000" stroke-width="1.5"/>
<text x="38.3" y="431.30" font-family='"Liberation Serif", serif' font-size="13" text-anchor="end" class="t">35</text>
<line x1="145.8" y1="597.60" x2="145.8" y2="601.60" stroke="#000" stroke-width="1.5"/>
<line x1="296.9" y1="597.60" x2="296.9" y2="601.60" stroke="#000" stroke-width="1.5"/>
<line x1="448.8" y1="597.60" x2="448.8" y2="601.60" stroke="#000" stroke-width="1.5"/>
<text x="55.7" y="440.7" font-family='"Liberation Serif", serif' font-size="20.5" font-weight="bold">(c)</text>
<text x="147.0" y="614.9" font-family='"Liberation Serif", serif' font-size="14.8" font-weight="bold" text-anchor="middle">Age 4</text>
<text x="299.6" y="615.4" font-family='"Liberation Serif", serif' font-size="14.8" font-weight="bold" text-anchor="middle">Age 5</text>
<text x="453.7" y="617.9" font-family='"Liberation Serif", serif' font-size="14.8" font-weight="bold" text-anchor="middle">Age 6</text>
<text transform="translate(12.0 215.2) rotate(-90) scale(1.075 1)" font-family='"Liberation Serif", serif' font-size="13.1" font-weight="bold">Basal area increment (m<tspan dy="-5" font-size="10">2</tspan><tspan dy="5"> ha</tspan><tspan dy="-5" font-size="10">-1</tspan><tspan dy="5"> yr</tspan><tspan dy="-5" font-size="10">-1</tspan><tspan dy="5">)</tspan></text>
<text transform="translate(12.0 389.3) rotate(-90) scale(1.075 1)" font-family='"Liberation Serif", serif' font-size="13.1" font-weight="bold">Height increment (m yr<tspan dy="-5" font-size="10">-1</tspan><tspan dy="5">)</tspan></text>
<text transform="translate(12.0 621.7) rotate(-90) scale(1.075 1)" font-family='"Liberation Serif", serif' font-size="13.1" font-weight="bold">Stem volume increment (m<tspan dy="-5" font-size="10">3</tspan><tspan dy="5"> ha</tspan><tspan dy="-5" font-size="10">-1</tspan><tspan dy="5"> yr</tspan><tspan dy="-5" font-size="10">-1</tspan><tspan dy="5">)</tspan></text>
<rect x="524.45" y="1.85" width="25.7" height="7.6" rx="0.6" fill="#fff" stroke="#000" stroke-width="1.7"/>
<text x="557.1" y="7.90" font-family='"Liberation Serif", serif' font-size="11.4">WP</text>
<text x="584.4" y="7.90" font-family='"Liberation Serif", serif' font-size="11.4">N</text>
<text transform="translate(574.6 11.60) scale(1 1)" font-family='"Liberation Serif", serif' font-size="7.4">-75</text>
<text transform="translate(593.4 11.60) scale(1 1)" font-family='"Liberation Serif", serif' font-size="7.4">60</text>
<rect x="524.45" y="19.95" width="25.7" height="7.6" rx="0.6" fill="url(#L2)" stroke="#000" stroke-width="1.7"/>
<text x="557.1" y="25.60" font-family='"Liberation Serif", serif' font-size="11.4">WP</text>
<text x="584.4" y="25.60" font-family='"Liberation Serif", serif' font-size="11.4">N</text>
<text transform="translate(574.6 29.30) scale(1 1)" font-family='"Liberation Serif", serif' font-size="7.4">-75</text>
<text transform="translate(593.4 29.30) scale(1 1)" font-family='"Liberation Serif", serif' font-size="7.4">120</text>
<rect x="524.45" y="37.35" width="25.7" height="7.6" rx="0.6" fill="url(#L3)" stroke="#000" stroke-width="1.7"/>
<text x="557.1" y="42.90" font-family='"Liberation Serif", serif' font-size="11.4">WP</text>
<text x="584.4" y="42.90" font-family='"Liberation Serif", serif' font-size="11.4">N</text>
<text transform="translate(574.6 46.60) scale(1 1)" font-family='"Liberation Serif", serif' font-size="7.4">-75</text>
<text transform="translate(593.4 46.60) scale(1 1)" font-family='"Liberation Serif", serif' font-size="7.4">180</text>
<rect x="524.45" y="55.15" width="25.7" height="7.6" rx="0.6" fill="url(#p4)" stroke="#000" stroke-width="1.7"/>
<text x="557.1" y="60.90" font-family='"Liberation Serif", serif' font-size="11.4">WP</text>
<text x="584.4" y="60.90" font-family='"Liberation Serif", serif' font-size="11.4">N</text>
<text transform="translate(574.6 64.60) scale(1 1)" font-family='"Liberation Serif", serif' font-size="7.4">-50</text>
<text transform="translate(593.4 64.60) scale(1 1)" font-family='"Liberation Serif", serif' font-size="7.4">60</text>
<rect x="524.45" y="72.85" width="25.7" height="7.6" rx="0.6" fill="url(#L5)" stroke="#000" stroke-width="1.7"/>
<text x="557.1" y="78.30" font-family='"Liberation Serif", serif' font-size="11.4">WP</text>
<text x="584.4" y="78.30" font-family='"Liberation Serif", serif' font-size="11.4">N</text>
<text transform="translate(574.6 82.00) scale(1 1)" font-family='"Liberation Serif", serif' font-size="7.4">-50</text>
<text transform="translate(593.4 82.00) scale(1 1)" font-family='"Liberation Serif", serif' font-size="7.4">120</text>
<rect x="524.45" y="90.85" width="25.7" height="7.6" rx="0.6" fill="url(#L6)" stroke="#000" stroke-width="1.7"/>
<text x="557.1" y="96.00" font-family='"Liberation Serif", serif' font-size="11.4">WP</text>
<text x="584.4" y="96.00" font-family='"Liberation Serif", serif' font-size="11.4">N</text>
<text transform="translate(574.6 99.70) scale(1 1)" font-family='"Liberation Serif", serif' font-size="7.4">-50</text>
<text transform="translate(593.4 99.70) scale(1 1)" font-family='"Liberation Serif", serif' font-size="7.4">180</text>
<rect x="524.45" y="108.55" width="25.7" height="7.6" rx="0.6" fill="url(#L7)" stroke="#000" stroke-width="1.7"/>
<text x="557.1" y="113.90" font-family='"Liberation Serif", serif' font-size="11.4">WP</text>
<text x="584.4" y="113.90" font-family='"Liberation Serif", serif' font-size="11.4">N</text>
<text transform="translate(574.6 117.60) scale(1 1)" font-family='"Liberation Serif", serif' font-size="7.4">-25</text>
<text transform="translate(593.4 117.60) scale(1 1)" font-family='"Liberation Serif", serif' font-size="7.4">60</text>
<rect x="524.45" y="126.05" width="25.7" height="7.6" rx="0.6" fill="url(#L8)" stroke="#000" stroke-width="1.7"/>
<text x="557.1" y="132.10" font-family='"Liberation Serif", serif' font-size="11.4">WP</text>
<text x="584.4" y="132.10" font-family='"Liberation Serif", serif' font-size="11.4">N</text>
<text transform="translate(574.6 135.80) scale(1 1)" font-family='"Liberation Serif", serif' font-size="7.4">-25</text>
<text transform="translate(593.4 135.80) scale(1 1)" font-family='"Liberation Serif", serif' font-size="7.4">120</text>
<rect x="524.45" y="144.15" width="25.7" height="7.6" rx="0.6" fill="#c0c0c0" stroke="#000" stroke-width="1.7"/>
<text x="557.1" y="149.50" font-family='"Liberation Serif", serif' font-size="11.4">WP</text>
<text x="584.4" y="149.50" font-family='"Liberation Serif", serif' font-size="11.4">N</text>
<text transform="translate(574.6 153.20) scale(1 1)" font-family='"Liberation Serif", serif' font-size="7.4">-25</text>
<text transform="translate(593.4 153.20) scale(1 1)" font-family='"Liberation Serif", serif' font-size="7.4">180</text>
<rect x="524.45" y="160.05" width="25.7" height="7.6" rx="0.6" fill="#5f5f5f" stroke="#000" stroke-width="1.7"/>
<text x="556.6" y="166.90" font-family='"Liberation Serif", serif' font-size="11.1">Control</text>
</svg>
</body></html>
